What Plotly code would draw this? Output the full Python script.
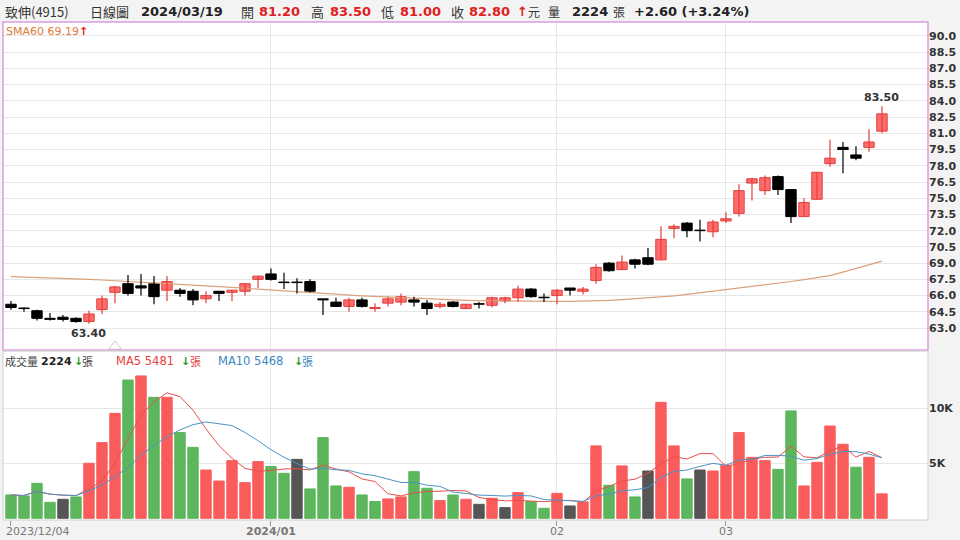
import pandas as pd
import plotly.graph_objects as go

dates = [
	"2023-12-04", "2023-12-05", "2023-12-06", "2023-12-07", "2023-12-08",
	"2023-12-11", "2023-12-12", "2023-12-13", "2023-12-14", "2023-12-15",
	"2023-12-18", "2023-12-19", "2023-12-20", "2023-12-21", "2023-12-22",
	"2023-12-25", "2023-12-26", "2023-12-27", "2023-12-28", "2023-12-29",
	"2024-01-02", "2024-01-03", "2024-01-04", "2024-01-05", "2024-01-08",
	"2024-01-09", "2024-01-10", "2024-01-11", "2024-01-12", "2024-01-15",
	"2024-01-16", "2024-01-17", "2024-01-18", "2024-01-19", "2024-01-22",
	"2024-01-23", "2024-01-24", "2024-01-25", "2024-01-26", "2024-01-29",
	"2024-01-30", "2024-01-31", "2024-02-01", "2024-02-02", "2024-02-05",
	"2024-02-15", "2024-02-16", "2024-02-19", "2024-02-20", "2024-02-21",
	"2024-02-22", "2024-02-23", "2024-02-26", "2024-02-27", "2024-02-29",
	"2024-03-01", "2024-03-04", "2024-03-05", "2024-03-06", "2024-03-07",
	"2024-03-08", "2024-03-11", "2024-03-12", "2024-03-13", "2024-03-14",
	"2024-03-15", "2024-03-18", "2024-03-19",
]

opens = [
	65.2, 64.85, 64.6, 63.9, 64.0, 63.9, 63.6, 64.7, 66.3, 67.1,
	66.9, 67.1, 66.5, 66.5, 66.4, 65.7, 66.4, 66.3, 66.4, 67.5,
	68.0, 67.25, 67.25, 67.3, 65.7, 65.4, 65.0, 65.6, 64.8, 65.3,
	65.4, 65.6, 65.3, 65.0, 65.4, 64.8, 65.25, 65.1, 65.5, 65.8,
	66.6, 65.85, 66.0, 66.7, 66.4, 67.4, 69.0, 68.4, 69.3, 69.5,
	69.3, 72.2, 72.7, 72.05, 71.9, 72.9, 73.6, 76.4, 75.7, 77.0,
	75.8, 73.3, 74.9, 78.2, 79.7, 79.0, 79.7, 81.2,
]
highs = [
	65.5, 64.9, 64.7, 64.4, 64.2, 64.0, 64.6, 66.0, 66.9, 67.9,
	68.0, 67.8, 67.8, 66.7, 66.6, 66.4, 66.4, 66.5, 67.1, 67.8,
	68.5, 68.1, 67.6, 67.5, 65.7, 65.8, 65.8, 65.8, 65.3, 65.9,
	66.2, 65.9, 65.6, 65.4, 65.5, 65.2, 65.4, 65.9, 65.9, 66.9,
	66.7, 66.2, 66.6, 66.7, 66.8, 68.9, 69.1, 69.7, 69.4, 70.4,
	72.4, 72.6, 72.8, 73.0, 73.0, 73.7, 76.3, 76.9, 77.1, 77.1,
	75.8, 75.0, 77.4, 80.4, 80.2, 79.8, 81.4, 83.5,
]
lows = [
	64.7, 64.5, 63.7, 63.7, 63.6, 63.5, 63.4, 64.3, 65.3, 66.0,
	66.0, 65.2, 65.5, 65.9, 65.1, 65.3, 65.5, 65.5, 66.0, 66.7,
	67.4, 66.6, 66.2, 66.3, 64.2, 65.0, 64.5, 64.9, 64.5, 65.0,
	65.1, 65.0, 64.2, 64.8, 64.9, 64.8, 64.8, 64.9, 65.3, 65.4,
	65.8, 65.4, 65.2, 66.0, 66.1, 67.1, 68.2, 68.4, 68.5, 68.8,
	69.3, 71.3, 71.4, 71.0, 71.4, 72.7, 73.3, 74.8, 75.3, 75.3,
	72.7, 73.3, 74.9, 77.9, 77.3, 78.5, 79.3, 81.0,
]
closes = [
	64.9, 64.8, 63.9, 63.8, 63.8, 63.6, 64.3, 65.7, 66.8, 66.2,
	66.7, 65.9, 67.3, 66.2, 65.6, 66.0, 66.2, 66.5, 67.1, 67.8,
	67.5, 67.2, 67.2, 66.4, 65.6, 65.0, 65.6, 65.0, 64.9, 65.7,
	65.9, 65.4, 64.8, 65.2, 65.0, 65.2, 65.2, 65.8, 65.8, 66.6,
	65.9, 65.8, 66.5, 66.5, 66.6, 68.6, 68.3, 69.1, 68.9, 68.9,
	71.2, 72.4, 72.0, 72.0, 72.8, 73.1, 75.7, 76.8, 76.9, 75.8,
	73.3, 74.6, 77.4, 78.7, 79.5, 78.7, 80.2, 82.8,
]
volumes = [
	2120, 2030, 3180, 1450, 1730, 1940, 5000, 6880, 9540, 12570,
	12940, 11000, 11000, 7790, 6450, 4390, 3390, 5240, 3240, 5150,
	4700, 4090, 5360, 2670, 7330, 2940, 2820, 2120, 1520, 1760,
	1940, 4240, 2730, 1610, 2120, 1730, 1270, 1820, 970, 2330,
	1520, 910, 2270, 1120, 1490, 6580, 3000, 4760, 1940, 4300,
	10540, 6580, 3580, 4390, 4300, 4820, 7790, 5540, 5240, 4450,
	9760, 2940, 5090, 8390, 6730, 4640, 5540, 2224,
]
sma60 = [
	67.75, 67.72, 67.68, 67.64, 67.60, 67.55, 67.50, 67.44, 67.38, 67.31,
	67.25, 67.18, 67.12, 67.04, 66.97, 66.90, 66.83, 66.75, 66.67, 66.58,
	66.50, 66.41, 66.32, 66.24, 66.17, 66.10, 66.04, 65.98, 65.92, 65.86,
	65.80, 65.75, 65.70, 65.65, 65.60, 65.56, 65.53, 65.51, 65.49, 65.47,
	65.45, 65.45, 65.46, 65.47, 65.48, 65.50, 65.56, 65.63, 65.70, 65.77,
	65.85, 65.98, 66.12, 66.26, 66.40, 66.55, 66.70, 66.85, 67.00, 67.15,
	67.30, 67.48, 67.66, 67.85, 68.17, 68.50, 68.84, 69.19,
]

price_ticks = [63.0, 64.5, 66.0, 67.5, 69.0, 70.5, 72.0, 73.5, 75.0, 76.5,
	78.0, 79.5, 81.0, 82.5, 84.0, 85.5, 87.0, 88.5, 90.0]
vol_ticks = [5000, 10000]
vol_tick_text = ["5K", "10K"]
month_idx = [20, 42, 55]
xlabel_idx = [0, 20, 42, 55]
xlabel_text = ["2023/12/04", "<b>2024/01</b>", "02", "03"]
event_idx = [8]

RED = "#fa5c5c"
RED_FILL = "#ff6a6a"
RED_LINE = "#e0403c"
GREEN = "#5cb65c"
GREY = "#555555"

W, H = 960, 540
ML, MR, MT, MB = 3, 32, 22, 20

def px(x):
	return (x - ML) / (W - ML - MR)

def py(y):
	return (H - MB - y) / (H - MT - MB)

# volume colour follows close vs previous close
vol_colors = []
for i, c in enumerate(closes):
	if i == 0 or c < closes[i - 1]:
		vol_colors.append(GREEN)
	elif c > closes[i - 1]:
		vol_colors.append(RED)
	else:
		vol_colors.append(GREY)

vol = pd.Series(volumes)
ma5 = vol.rolling(5, min_periods=1).mean()
ma10 = vol.rolling(10, min_periods=1).mean()

# candle pieces
body_base = []
body_len = []
body_fill = []
body_line = []
wick_x = {"up": [], "dn": []}
wick_y = {"up": [], "dn": []}
for d, o, h, l, c in zip(dates, opens, highs, lows, closes):
	up = c > o
	body_base.append(min(o, c))
	body_len.append(max(abs(c - o), 0.04))
	body_fill.append(RED_FILL if up else "#000000")
	body_line.append(RED_LINE if up else "#000000")
	k = "up" if up else "dn"
	wick_x[k] += [d, d, None]
	wick_y[k] += [l, h, None]

fig = go.Figure()

fig.add_trace(go.Bar(
	x=dates, y=volumes, xaxis="x", yaxis="y",
	marker=dict(color=vol_colors, line=dict(color=vol_colors, width=1)),
	hoverinfo="skip",
))
fig.add_trace(go.Scatter(
	x=dates, y=ma5, xaxis="x", yaxis="y", mode="lines",
	line=dict(color="#e8504c", width=1), hoverinfo="skip",
))
fig.add_trace(go.Scatter(
	x=dates, y=ma10, xaxis="x", yaxis="y", mode="lines",
	line=dict(color="#4a94c4", width=1), hoverinfo="skip",
))

fig.add_trace(go.Scatter(
	x=dates, y=sma60, xaxis="x2", yaxis="y2", mode="lines",
	line=dict(color="#dca07a", width=1.2), hoverinfo="skip",
))
fig.add_trace(go.Scatter(
	x=wick_x["up"], y=wick_y["up"], xaxis="x2", yaxis="y2", mode="lines",
	line=dict(color=RED_LINE, width=1.2), hoverinfo="skip",
))
fig.add_trace(go.Scatter(
	x=wick_x["dn"], y=wick_y["dn"], xaxis="x2", yaxis="y2", mode="lines",
	line=dict(color="#000000", width=1.2), hoverinfo="skip",
))
fig.add_trace(go.Bar(
	x=dates, y=body_len, base=body_base, width=0.8, xaxis="x2", yaxis="y2",
	marker=dict(color=body_fill, line=dict(color=body_line, width=1)),
	hoverinfo="skip",
))
fig.add_trace(go.Scatter(
	x=[dates[i] for i in event_idx], y=[61.3 for i in event_idx],
	xaxis="x2", yaxis="y2", mode="markers",
	marker=dict(symbol="triangle-up-open", size=11, color="#c8c8c8", line=dict(width=1)),
	hoverinfo="skip",
))

lo_i = lows.index(min(lows))
hi_i = highs.index(max(highs))

ann = []
ann.append(dict(x=dates[lo_i], y=lows[lo_i], xref="x2", yref="y2", text="%.2f" % lows[lo_i],
	showarrow=False, yanchor="top", yshift=-1,
	font=dict(family="DejaVu Sans", size=11, color="#333", weight="bold")))
ann.append(dict(x=dates[hi_i], y=highs[hi_i], xref="x2", yref="y2", text="%.2f" % highs[hi_i],
	showarrow=False, yanchor="bottom", yshift=0,
	font=dict(family="DejaVu Sans", size=11, color="#333", weight="bold")))

CJK = "Noto Sans CJK TC"
NUM = "DejaVu Sans"
header = [
	(3, "致伸(4915)", "#333", CJK, "normal", 13),
	(88, "日線圖", "#333", CJK, "normal", 13),
	(139, "2024/03/19", "#222", NUM, "bold", 13),
	(239, "開", "#333", CJK, "normal", 13),
	(257, "81.20", "#e02020", NUM, "bold", 13),
	(309, "高", "#333", CJK, "normal", 13),
	(328, "83.50", "#e02020", NUM, "bold", 13),
	(379, "低", "#333", CJK, "normal", 13),
	(398, "81.00", "#e02020", NUM, "bold", 13),
	(449, "收", "#333", CJK, "normal", 13),
	(467, "82.80", "#e02020", NUM, "bold", 13),
	(515, "↑", "#e02020", NUM, "bold", 13),
	(526, "元", "#333", CJK, "normal", 12),
	(546, "量", "#333", CJK, "normal", 12),
	(570, "2224", "#222", NUM, "bold", 13),
	(611, "張", "#333", CJK, "normal", 12),
	(632, "+2.60 (+3.24%)", "#222", NUM, "bold", 13),
]
for x, t, c, f, w, s in header:
	ann.append(dict(x=px(x), y=py(12), xref="paper", yref="paper", text=t, showarrow=False,
		xanchor="left", yanchor="middle", font=dict(family=f, size=s, color=c, weight=w)))

ann.append(dict(x=px(4), y=py(31), xref="paper", yref="paper",
	text="<span style='color:#e07a3a'>SMA60 %.2f</span><span style='color:#e02020'><b>↑</b></span>" % sma60[-1],
	showarrow=False, xanchor="left", yanchor="middle", font=dict(family=NUM, size=11)))

vlegend = [
	(3, "成交量", "#444", CJK, "normal", 11),
	(39, "2224", "#222", NUM, "bold", 11),
	(72, "↓", "#2a9a2a", NUM, "bold", 11),
	(80, "張", "#444", CJK, "normal", 11),
	(114, "MA5 %d" % 5481, "#e84040", NUM, "normal", 11.5),
	(179, "↓", "#2a9a2a", NUM, "bold", 11),
	(188, "張", "#e84040", CJK, "normal", 11),
	(216, "MA10 %d" % 5468, "#3d86bf", NUM, "normal", 11.5),
	(292, "↓", "#2a9a2a", NUM, "bold", 11),
	(300, "張", "#3d86bf", CJK, "normal", 11),
]
for x, t, c, f, w, s in vlegend:
	ann.append(dict(x=px(x), y=py(361), xref="paper", yref="paper", text=t, showarrow=False,
		xanchor="left", yanchor="middle", font=dict(family=f, size=s, color=c, weight=w)))

for i, t in zip(xlabel_idx, xlabel_text):
	ann.append(dict(x=dates[i], y=py(531), xref="x", yref="paper", text=t, showarrow=False,
		xanchor="left" if i == 0 else "center", xshift=-7 if i == 0 else 0, yanchor="middle",
		font=dict(family=NUM, size=11, color="#777")))

shapes = [
	dict(type="rect", xref="paper", yref="paper", x0=0, x1=1, y0=py(350), y1=1,
		line=dict(color="#dc9ee0", width=1.5)),
	dict(type="rect", xref="paper", yref="paper", x0=0, x1=1, y0=0, y1=py(351),
		line=dict(color="#cfcfcf", width=1)),
]

fig.update_layout(
	width=W, height=H,
	margin=dict(l=ML, r=MR, t=MT, b=MB),
	paper_bgcolor="#f3f3f3",
	plot_bgcolor="#ffffff",
	showlegend=False,
	hovermode=False,
	barmode="overlay",
	bargap=0.2,
	annotations=ann,
	shapes=shapes,
	xaxis=dict(
		type="category", domain=[0, 1], anchor="y",
		range=[-0.615, 70.54],
		tickvals=[dates[i] for i in month_idx], showticklabels=False,
		ticks="outside", ticklen=5, tickcolor="#999",
		minor=dict(tickvals=[dates[0]], ticks="outside", ticklen=5, tickcolor="#999", showgrid=False),
		showgrid=True, gridcolor="#e6e6e6", zeroline=False, showline=False,
	),
	xaxis2=dict(
		type="category", domain=[0, 1], anchor="y2", matches="x",
		tickvals=[dates[i] for i in month_idx], showticklabels=False, ticks="",
		showgrid=True, gridcolor="#e6e6e6", zeroline=False,
	),
	yaxis=dict(
		domain=[0, py(352)], side="right", range=[-155, 15117],
		tickvals=vol_ticks, ticktext=vol_tick_text,
		tickfont=dict(family=NUM, size=11, color="#333", weight="bold"),
		showgrid=True, gridcolor="#e6e6e6", zeroline=False, ticks="",
	),
	yaxis2=dict(
		domain=[py(350), 1], side="right", range=[60.97, 91.29],
		tickvals=price_ticks, ticktext=["%.1f" % v for v in price_ticks],
		tickfont=dict(family=NUM, size=11, color="#333", weight="bold"),
		showgrid=True, gridcolor="#e6e6e6", zeroline=False, ticks="",
	),
)

fig.write_html("out.html", config={"displayModeBar": False},
	post_script="document.body.style.margin='0px';")
